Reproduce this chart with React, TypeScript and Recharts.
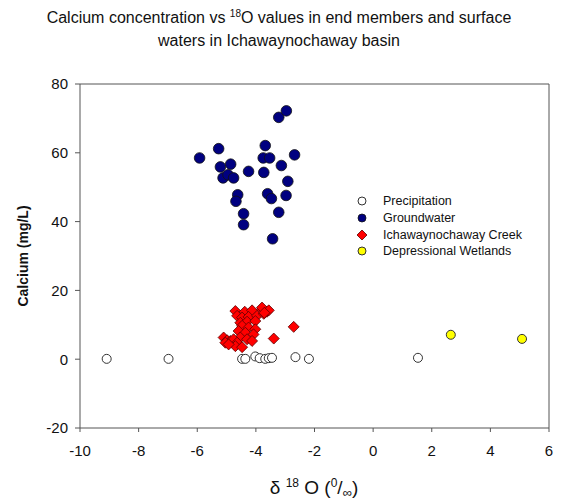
import React from "react";
import { ScatterChart, Scatter, XAxis, YAxis, ReferenceLine } from "recharts";

const precipX = [-9.09, -6.98, -4.47, -4.36, -4.02, -3.87, -3.68, -3.56, -3.45, -2.65, -2.19, 1.53];
const precipY = [0.1, 0.1, 0.1, 0.1, 0.8, 0.3, 0.1, 0.3, 0.4, 0.6, 0.1, 0.4];

const groundX = [-5.92, -5.27, -5.21, -4.86, -5.12, -4.95, -4.76, -4.62, -4.68, -4.42, -4.42, -4.25, -3.68, -3.75, -3.53, -3.73, -3.6, -3.47, -3.43, -3.22, -2.96, -3.13, -2.68, -2.91, -2.97, -3.22];
const groundY = [58.5, 61.2, 55.9, 56.7, 52.7, 53.6, 52.7, 47.8, 45.9, 42.3, 39.1, 54.6, 62.1, 58.5, 58.5, 54.3, 48.1, 46.7, 35.0, 70.3, 72.2, 56.3, 59.4, 51.7, 47.6, 42.7];

const creekX = [-4.7, -4.38, -4.13, -3.79, -3.62, -4.64, -4.47, -4.25, -3.96, -3.73, -4.53, -4.3, -4.02, -4.47, -4.25, -4.02, -4.59, -4.36, -4.08, -4.53, -4.3, -4.13, -5.1, -4.98, -4.87, -4.76, -4.64, -4.7, -4.47, -5.04, -4.93, -3.79, -3.56, -3.71, -2.71, -3.39];
const creekY = [14.0, 13.8, 14.2, 14.5, 13.8, 12.6, 12.1, 12.3, 12.6, 13.2, 10.6, 10.9, 11.1, 9.7, 9.2, 8.7, 8.2, 7.7, 7.2, 6.3, 5.8, 5.3, 6.3, 5.5, 5.3, 5.8, 4.8, 3.8, 3.5, 4.8, 4.3, 15.0, 14.2, 13.5, 9.4, 6.0];

const wetX = [2.65, 5.08];
const wetY = [7.1, 5.9];

const xTicks = [-10, -8, -6, -4, -2, 0, 2, 4, 6];
const yTicks = [-20, 0, 20, 40, 60, 80];

const seriesNames = ["Precipitation", "Groundwater", "Ichawaynochaway Creek", "Depressional Wetlands"];

const zip = (xs: number[], ys: number[]) => xs.map((x, i) => ({ x, y: ys[i] }));

const precip = zip(precipX, precipY);
const ground = zip(groundX, groundY);
const creek = zip(creekX, creekY);
const wet = zip(wetX, wetY);

const FONT = "'Liberation Sans', Arial, sans-serif";
const AXIS = "#555";

const OpenCircle = (p: any) => <circle cx={p.cx} cy={p.cy} r={4.5} fill="#fff" stroke="#333" strokeWidth={1} />;
const NavyCircle = (p: any) => <circle cx={p.cx} cy={p.cy} r={5.3} fill="#000080" stroke="#111" strokeWidth={0.8} />;
const RedDiamond = (p: any) => {
  const s = 5.5;
  return (
    <polygon
      points={`${p.cx},${p.cy - s} ${p.cx + s},${p.cy} ${p.cx},${p.cy + s} ${p.cx - s},${p.cy}`}
      fill="#ff0000"
      stroke="#5a0000"
      strokeWidth={0.8}
    />
  );
};
const YellowCircle = (p: any) => <circle cx={p.cx} cy={p.cy} r={4.5} fill="#ffff00" stroke="#333" strokeWidth={1} />;

const legendMarkers = [
  (cx: number, cy: number) => <circle cx={cx} cy={cy} r={4} fill="#fff" stroke="#333" strokeWidth={1} />,
  (cx: number, cy: number) => <circle cx={cx} cy={cy} r={4} fill="#000080" stroke="#111" strokeWidth={0.8} />,
  (cx: number, cy: number) => (
    <polygon points={`${cx},${cy - 5} ${cx + 5},${cy} ${cx},${cy + 5} ${cx - 5},${cy}`} fill="#ff0000" stroke="#5a0000" strokeWidth={0.8} />
  ),
  (cx: number, cy: number) => <circle cx={cx} cy={cy} r={4} fill="#ffff00" stroke="#333" strokeWidth={1} />,
];

const LegendBox = () => (
  <div style={{ position: "absolute", left: 355, top: 193, fontFamily: FONT, fontSize: 12.5, color: "#111" }}>
    {seriesNames.map((n, i) => (
      <div key={n} style={{ display: "flex", alignItems: "center", height: 16.7 }}>
        <svg width={14} height={14} style={{ marginRight: 14 }}>
          {legendMarkers[i](7, 7)}
        </svg>
        <span>{n}</span>
      </div>
    ))}
  </div>
);

const XLabel = () => (
  <text x={314} y={494} textAnchor="middle" fontFamily={FONT} fill="#111" fontSize={19}>
    <tspan>δ </tspan>
    <tspan fontSize={12} dy={-7}>18</tspan>
    <tspan dy={7}> O (</tspan>
    <tspan fontSize={12} dy={-7}>0</tspan>
    <tspan dy={7}>/</tspan>
    <tspan fontSize={13} dy={3}>∞</tspan>
    <tspan dy={-3}>)</tspan>
  </text>
);

export default function App() {
  return (
    <div style={{ position: "absolute", left: 0, top: 0, width: 581, height: 501, background: "#fff" }}>
      <div
        style={{
          position: "absolute",
          left: 0,
          top: 6,
          width: 558,
          textAlign: "center",
          fontFamily: FONT,
          fontSize: 16,
          lineHeight: "23px",
          color: "#111",
        }}
      >
        Calcium concentration vs <sup style={{ fontSize: 10, verticalAlign: 6, lineHeight: 0 }}>18</sup>O values in end members and surface
        <br />
        waters in Ichawaynochaway basin
      </div>
      <ScatterChart
        width={581}
        height={501}
        margin={{ top: 84, right: 32, bottom: 43, left: 20 }}
        style={{ position: "absolute", left: 0, top: 0 }}
      >
        <XAxis
          type="number"
          dataKey="x"
          domain={[-10, 6]}
          ticks={xTicks}
          allowDataOverflow
          height={30}
          stroke={AXIS}
          tickSize={4}
          tick={{ fill: "#111", fontSize: 15, fontFamily: FONT }}
          tickMargin={13}
        />
        <YAxis
          type="number"
          dataKey="y"
          domain={[-20, 80]}
          ticks={yTicks}
          allowDataOverflow
          width={60}
          stroke={AXIS}
          tickSize={5}
          tick={{ fill: "#111", fontSize: 15, fontFamily: FONT }}
          tickMargin={7}
          label={{
            value: "Calcium  (mg/L)",
            angle: -90,
            position: "insideLeft",
            dx: -2,
            style: { textAnchor: "middle", fontWeight: "bold", fontSize: 14, fontFamily: FONT, fill: "#111" },
          }}
        />
        <ReferenceLine y={80} stroke={AXIS} ifOverflow="visible" />
        <ReferenceLine x={6} stroke={AXIS} ifOverflow="visible" />
        <Scatter name={seriesNames[0]} data={precip} shape={OpenCircle} isAnimationActive={false} />
        <Scatter name={seriesNames[1]} data={ground} shape={NavyCircle} isAnimationActive={false} />
        <Scatter name={seriesNames[2]} data={creek} shape={RedDiamond} isAnimationActive={false} />
        <Scatter name={seriesNames[3]} data={wet} shape={YellowCircle} isAnimationActive={false} />
        <XLabel />
      </ScatterChart>
      <LegendBox />
    </div>
  );
}
